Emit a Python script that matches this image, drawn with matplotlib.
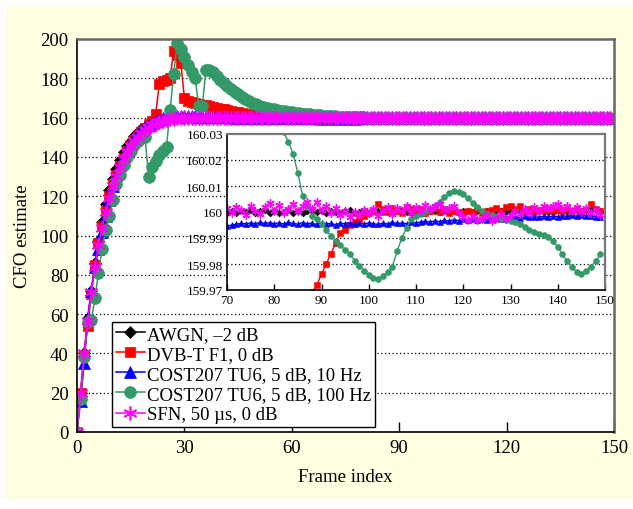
import numpy as np
import matplotlib
matplotlib.use("Agg")
import matplotlib.pyplot as plt
from matplotlib.patches import Rectangle

plt.rcParams['font.family'] = ['Liberation Serif', 'DejaVu Serif']

# ---------------- data ----------------
frames = list(range(150))

labels = ["AWGN, \u20132 dB", "DVB-T F1, 0 dB", "COST207 TU6, 5 dB, 10 Hz",
          "COST207 TU6, 5 dB, 100 Hz", "SFN, 50 \u00b5s, 0 dB"]

# frames 0..69 (values)
awgn_head = [0, 20, 40, 58, 72, 86, 97, 107, 116, 123,
             129, 134, 138.5, 142.5, 145.5, 148, 150.5, 152.5, 154, 155.3,
             156.4, 157.3, 158, 158.6, 159, 159.3, 159.55, 159.7, 159.8, 159.87,
             159.92, 159.95, 159.97, 159.98, 159.99, 160, 160, 160, 160, 160,
             160, 160, 160, 160, 160, 160, 160, 160, 160, 160,
             160, 160, 160, 160, 160, 160, 160, 160, 160, 160,
             160, 160, 160, 160, 160, 160, 160, 160, 160, 160]
dvbt_head = [0, 20, 39, 54, 70, 85, 96, 105, 113, 120,
             126, 131, 135.5, 139.5, 143, 146, 148.5, 150.5, 152.5, 154.5,
             156.5, 158.5, 162, 177, 178.5, 179, 180, 194, 192, 188,
             170, 168.5, 168, 167.5, 167, 166.6, 166.2, 165.8, 165.4, 165,
             164.6, 164.2, 163.8, 163.4, 163, 162.6, 162.2, 161.9, 161.6, 161.3,
             161, 160.8, 160.6, 160.4, 160.25, 160.1, 160, 159.95, 159.9, 159.85,
             159.8, 159.75, 159.7, 159.65, 159.6, 159.5, 159.4, 159.2, 159.0, 158.8]
tu10_head = [0, 16, 35, 58, 72, 84, 93, 102, 110, 118,
             125, 131, 136, 140.5, 144, 147, 149.5, 151.5, 153.5, 155,
             156.3, 157.4, 158.3, 159, 159.6, 160.1, 160.5, 160.8, 161, 161,
             161, 160.9, 160.8, 160.7, 160.6, 160.5, 160.4, 160.3, 160.25, 160.2,
             160.15, 160.1, 160.08, 160.06, 160.04, 160.03, 160.02, 160.01, 160.005, 160,
             159.998, 159.997, 159.996, 159.996, 159.995, 159.995, 159.995, 159.995, 159.995, 159.995,
             159.995, 159.995, 159.995, 159.995, 159.995, 159.995, 159.995, 159.995, 159.995, 159.995]
tu100_head = [0, 17, 38, 56, 57, 68, 81, 93, 103, 110,
              118, 126, 131, 136, 140, 143, 146, 148, 149.5, 150,
              130, 135, 138, 141, 143, 145, 164, 182, 198, 195,
              191, 187, 183, 180, 166, 166, 184, 184, 183, 181,
              179, 177.5, 176, 174.5, 173, 171.8, 170.6, 169.5, 168.5, 167.6,
              166.8, 166.1, 165.5, 165, 164.6, 164.2, 163.8, 163.5, 163.2, 162.9,
              162.6, 162.4, 162.2, 162, 161.8, 161.6, 161.5, 161.3, 161.2, 161.05]
sfn_head = [0, 20, 40, 56.5, 71.5, 84, 95, 104, 112, 119,
            125, 130.5, 135, 139, 142.5, 145.5, 148, 150, 152, 153.5,
            154.8, 156, 156.9, 157.6, 158.2, 158.7, 159.1, 159.4, 159.6, 159.75,
            159.85, 159.9, 159.94, 159.96, 159.98, 159.99, 160, 160, 160, 160,
            160, 160, 160, 160, 160, 160, 160, 160, 160, 160,
            160, 160, 160, 160, 160, 160, 160, 160, 160, 160,
            160, 160, 160, 160, 160, 160, 160, 160, 160, 160]

# frames 70..149: deviation from 160 in units of 0.001
awgn_tail_dev = [-0.2, 0.3, -0.5, 0.4, -0.1, 0.6, -0.3, 0.2, 0.8, -0.2,
                 0.5, -0.4, 0.1, 0.6, -0.3, 0.2, -0.5, 0.4, 0.7, -0.1,
                 0.3, -0.2, 0.5, 0.0, -0.4, 0.3, 0.6, -0.2, 0.1, 0.4,
                 -0.3, 0.2, 0.5, -0.1, 0.3, -0.4, 0.2, 0.6, 0.0, -0.2,
                 0.4, 0.1, -0.3, 0.5, 0.2, -0.1, 0.3, 0.0, 0.4, -0.2,
                 0.2, 0.5, -0.1, 0.3, 0.1, 0.4, -0.2, 0.6, 0.2, 0.0,
                 0.5, 0.3, -0.1, 0.4, 0.7, 0.1, 0.3, 0.5, 0.0, 0.4,
                 0.6, 0.2, 0.5, 0.3, 0.8, 0.4, 0.6, 1.0, 0.9, 0.3]
dvbt_tail_dev = [-1300, -1400, -1400, -1450, -1400, -1450, -1400, -1350, -1000, -600,
                 -330, -220, -150, -100, -70, -50, -40, -34, -31,
                 -28, -24, -20, -16, -12, -8, -7, -5, -4,
                 -3.0, -1.5, -0.5, 0.5, 3.0, 1.0, 0.0, 1.5, 0.5, -0.5, 2.0, 1.0,
                 0.0, 1.0, -0.5, 0.5, 1.5, 0.0, 1.0, -0.5, 0.5, 0.0,
                 -0.3, 0.5, 0.0, 1.0, -0.5, 0.3, 0.8, 1.5, 0.5, 1.8,
                 2.5, 1.0, 2.2, 0.5, 1.0, 0.0, 0.8, 0.3, 1.0, 0.5,
                 0.8, 0.3, 1.2, 0.5, 1.0, 0.3, 0.8, 3.2, 1.0, 0.5]
tu10_tail_dev = [-5.5, -5.0, -4.8, -4.3, -4.6, -4.2, -4.5, -4.0, -4.4, -4.1,
                 -4.5, -4.2, -4.6, -4.0, -4.4, -4.7, -4.1, -4.5, -4.3, -4.8,
                 -4.2, -4.6, -4.4, -4.9, -4.3, -4.5, -4.1, -4.7, -4.4, -4.6,
                 -4.2, -4.5, -4.8, -4.3, -4.6, -4.0, -4.4, -4.2, -4.5, -3.9,
                 -4.3, -3.8, -3.6, -3.9, -3.4, -3.7, -3.2, -3.5, -3.0, -3.3,
                 -2.8, -3.1, -2.7, -3.0, -2.5, -2.9, -2.4, -2.2, -2.6, -2.0,
                 -2.3, -1.9, -2.2, -1.7, -2.1, -1.8, -2.0, -1.6, -1.9, -1.5,
                 -1.8, -1.4, -1.7, -1.3, -1.6, -1.2, -1.5, -1.4, -1.8, -1.9]
tu100_tail_dev = [900, 700, 560, 450, 380, 300, 230, 170, 120, 85, 60, 42,
                  30.6, 27.0, 22.3, 15.0, 6.3, 1.8, -1.6, -2.7,
                  -4.6, -7.0, -9.1, -11.0, -12.7, -14.6, -16.2, -18.7, -20.6, -22.6,
                  -24.2, -25.5, -25.8, -24.5, -23.2, -21.0, -15.1, -10.0, -6.2, -2.7,
                  -1.4, -0.8, 0.0, 1.2, 2.4, 4.0, 5.8, 7.3, 8.2, 7.6,
                  6.8, 5.2, 3.6, 1.9, 0.2, -0.6, -1.2, -2.0, -2.6, -3.0,
                  -3.5, -4.0, -4.6, -5.9, -6.8, -7.8, -8.5, -9.0, -9.5, -11.0,
                  -13.5, -16.3, -19.0, -21.2, -23.0, -23.8, -22.5, -21.0, -19.0, -16.2]
sfn_tail_dev = [1.5, -0.5, 2.0, 0.8, -1.0, 2.5, 0.3, -0.8, 1.8, 3.5,
                0.5, 2.8, -0.3, 1.2, 3.0, 0.2, 2.2, 4.0, 1.0, 3.8,
                0.8, 2.5, -0.5, 1.5, -1.2, 0.5, -1.8, 0.0, -1.0, 0.8,
                -0.5, 1.2, -1.5, 0.5, 2.0, -0.8, 1.5, 0.2, 2.5, -0.3,
                1.8, 0.5, 2.8, 1.0, 2.2, 3.0, 0.8, 1.5, 2.5, -0.5,
                -2.0, -3.0, -1.5, -3.2, -2.5, -1.0, -3.5, -2.2, -0.8, -2.8,
                -1.2, 0.5, -0.8, 1.0, -0.5, 1.8, 0.2, 2.5, 1.0, 2.2,
                3.0, 1.2, 2.5, 0.5, 1.8, 0.0, 1.5, -0.5, 0.8, -1.2]

heads = [awgn_head, dvbt_head, tu10_head, tu100_head, sfn_head]
tails = [awgn_tail_dev, dvbt_tail_dev, tu10_tail_dev, tu100_tail_dev, sfn_tail_dev]
series = []
for h, t in zip(heads, tails):
    assert len(h) == 70 and len(t) == 80, (len(h), len(t))
    series.append(np.array(h + [160 + d / 1000.0 for d in t]))

colors = ['black', '#FF0000', '#0000FF', '#339966', '#FF00FF']
markers = ['D', 's', '^', 'o', (6, 2, 0)]
ms_main = [6, 7.5, 8, 8.5, 10]
ms_inset = [3.5, 4.2, 4.3, 4.3, 6]

x = np.array(frames)

# ---------------- figure ----------------
fig = plt.figure(figsize=(6.33, 5.10), dpi=100)
fig.patch.set_facecolor('white')
fig.patches.append(Rectangle((6 / 633, 1 - 500 / 510), 1 - 6 / 633, (500 - 7) / 510,
                             transform=fig.transFigure, facecolor='#FFFFE1',
                             edgecolor='none', zorder=-10))

ax = fig.add_axes([77 / 633, 1 - 433 / 510, 537 / 633, 393 / 510])
ax.set_facecolor('white')
for s, c, m, ms, lab in zip(series, colors, markers, ms_main, labels):
    ax.plot(x, s, color=c, marker=m, ms=ms, lw=1.1, mew=1.2 if m == (6, 2, 0) else 0.5,
            mec=c, label=lab)
ax.set_xlim(0, 150)
ax.set_ylim(0, 200)
ax.set_xticks(range(0, 151, 30))
ax.set_yticks(range(0, 201, 20))
ax.tick_params(axis='x', direction='in', length=7, width=1, labelsize=13.5, pad=5)
ax.tick_params(axis='y', length=0, labelsize=13.5, pad=6)
for yv in range(20, 200, 20):
    ax.axhline(yv, color='black', lw=0.9, ls=(0, (1, 2)), zorder=0.5)
for side in ['left', 'bottom']:
    ax.spines[side].set_color('black')
    ax.spines[side].set_linewidth(1.2)
for side in ['top', 'right']:
    ax.spines[side].set_color('#666666')
    ax.spines[side].set_linewidth(1.8)
ax.set_xlabel('Frame index', fontsize=13.5, labelpad=9)
ax.set_ylabel('CFO estimate', fontsize=13.5, labelpad=7)

leg = ax.legend(loc='lower left', bbox_to_anchor=(0.065, 0.013), borderaxespad=0,
                fontsize=13.5, frameon=True, fancybox=False, numpoints=1,
                handlelength=1.55, handletextpad=0.12, labelspacing=0.16,
                borderpad=0.2)
leg.get_frame().set_edgecolor('black')
leg.get_frame().set_linewidth(1.0)
leg.get_frame().set_facecolor('white')
leg.get_frame().set_alpha(1)

# ---------------- inset ----------------
axin = fig.add_axes([227 / 633, 1 - 291 / 510, 378 / 633, 156 / 510])
axin.set_facecolor('white')
for s, c, m, ms in zip(series, colors, markers, ms_inset):
    axin.plot(x[70:], s[70:], color=c, marker=m, ms=ms, lw=1.0,
              mew=1.0 if m == (6, 2, 0) else 0.4, mec=c)
axin.set_xlim(70, 150)
axin.set_ylim(159.97, 160.03)
axin.set_xticks(range(70, 151, 10))
yt = [159.97, 159.98, 159.99, 160.0, 160.01, 160.02, 160.03]
axin.set_yticks(yt)
axin.set_yticklabels(['159.97', '159.98', '159.99', '160', '160.01', '160.02', '160.03'])
axin.tick_params(axis='x', direction='in', length=4, width=1, labelsize=9.5, pad=3)
axin.tick_params(axis='y', length=0, labelsize=9.5, pad=3)
for yv in yt[1:-1]:
    axin.axhline(yv, color='black', lw=0.9, ls=(0, (1, 2)), zorder=0.5)
for side in ['left', 'bottom']:
    axin.spines[side].set_color('black')
    axin.spines[side].set_linewidth(1.2)
for side in ['top', 'right']:
    axin.spines[side].set_color('#777777')
    axin.spines[side].set_linewidth(1.6)

fig.savefig('out.png', dpi=100, facecolor=fig.get_facecolor())
